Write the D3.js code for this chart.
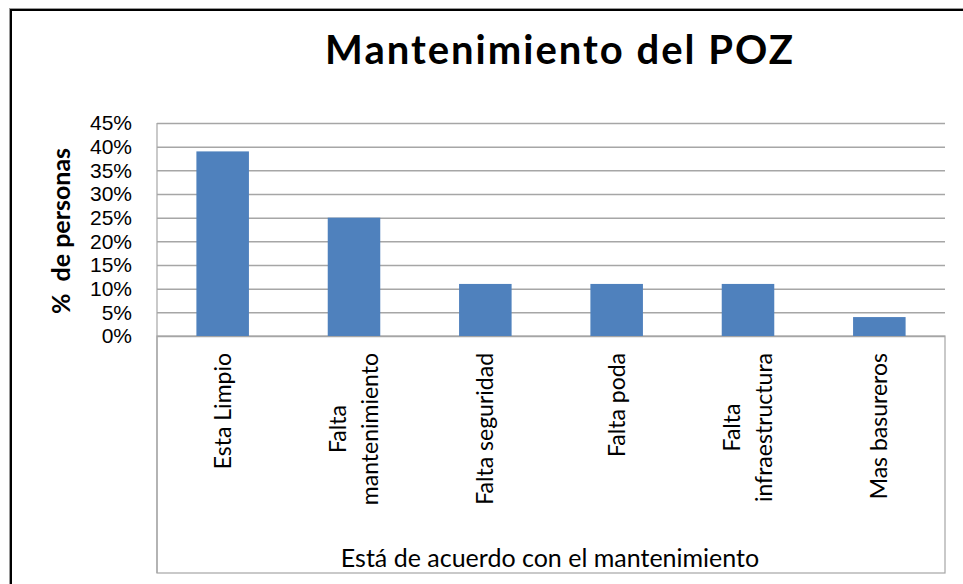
<!DOCTYPE html>
<html>
<head>
<meta charset="utf-8">
<script src="https://cdn.jsdelivr.net/npm/d3@7"></script>
<style>
  body { margin: 0; background: #fff; }
</style>
</head>
<body>
<div id="chart"></div>
<script>
// data
const categories = [
  ["Esta Limpio"],
  ["Falta", "mantenimiento"],
  ["Falta seguridad"],
  ["Falta poda"],
  ["Falta", "infraestructura"],
  ["Mas basureros"]
];
const values = [0.39, 0.25, 0.11, 0.11, 0.11, 0.04];
const yTicks = [0, 0.05, 0.10, 0.15, 0.20, 0.25, 0.30, 0.35, 0.40, 0.45];

const W = 963, H = 584;
let margin = { top: 123, right: 18, bottom: 248, left: 157 },
  width = W - margin.left - margin.right,
  height = H - margin.top - margin.bottom;

let svg = d3.select("#chart").append("svg")
  .attr("width", W)
  .attr("height", H);

// outer chart border (runs off the right and bottom of the picture)
svg.append("rect")
  .attr("x", 9.5).attr("y", 8.5)
  .attr("width", W + 20).attr("height", H + 20)
  .attr("fill", "none").attr("stroke", "#9a9a9a").attr("stroke-width", 1);
svg.append("rect")
  .attr("x", 11).attr("y", 10)
  .attr("width", W + 20).attr("height", H + 20)
  .attr("fill", "none").attr("stroke", "#000").attr("stroke-width", 2);

let g = svg.append("g")
  .attr("transform", "translate(" + margin.left + "," + margin.top + ")");

let x = d3.scaleBand()
  .domain(categories.map(c => c.join(" ")))
  .range([0, width])
  .paddingInner(0.6)
  .paddingOuter(0.3);

let y = d3.scaleLinear()
  .domain([0, 0.45])
  .range([height, 0]);

// gridlines
g.append("g")
  .attr("class", "grid")
  .call(d3.axisLeft(y).tickValues(yTicks).tickSize(-width).tickFormat(""))
  .call(s => s.select(".domain").remove())
  .selectAll("line")
  .attr("stroke", "#a6a6a6")
  .attr("stroke-width", 1.5);

// box under the axis for the category labels
g.append("rect")
  .attr("x", 0).attr("y", height)
  .attr("width", width).attr("height", 237)
  .attr("fill", "none").attr("stroke", "#a6a6a6").attr("stroke-width", 1.2);

// bars
g.selectAll(".bar")
  .data(values)
  .enter()
  .append("rect")
  .attr("class", "bar")
  .attr("fill", "#4f81bd")
  .attr("x", (d, i) => x(categories[i].join(" ")))
  .attr("width", x.bandwidth())
  .attr("y", d => y(d))
  .attr("height", d => height - y(d));

// y axis
let yaxis = g.append("g")
  .call(d3.axisLeft(y).tickValues(yTicks).tickSize(0).tickPadding(25)
    .tickFormat(d3.format(".0%")));
yaxis.select(".domain").remove();
yaxis.selectAll("text")
  .attr("font-family", "'Liberation Sans', Arial, sans-serif")
  .attr("font-size", "21px")
  .attr("fill", "#000");
g.append("line")
  .attr("x1", 0).attr("x2", 0).attr("y1", 0).attr("y2", height + 237)
  .attr("stroke", "#a6a6a6").attr("stroke-width", 1.2);

// category labels, rotated, multiline
let lineH = 32;
categories.forEach((lines, i) => {
  let cx = x(lines.join(" ")) + x.bandwidth() / 2;
  let t = g.append("text")
    .attr("font-family", "Lato, sans-serif")
    .attr("font-size", "23px")
    .attr("fill", "#000")
    .attr("text-anchor", "middle");
  lines.forEach((ln, j) => {
    t.append("tspan")
      .attr("x", 0)
      .attr("y", (j - (lines.length - 1) / 2) * lineH + 8)
      .text(ln);
  });
  let maxW = 0;
  t.selectAll("tspan").each(function () {
    maxW = Math.max(maxW, this.getComputedTextLength());
  });
  t.attr("transform", "translate(" + cx + "," + (height + 17 + maxW / 2) + ") rotate(-90)");
});

// x axis title
g.append("text")
  .attr("x", width / 2 - 1)
  .attr("y", height + 231)
  .attr("text-anchor", "middle")
  .attr("font-family", "Lato, sans-serif")
  .attr("font-size", "25px")
  .attr("fill", "#000")
  .text("Está de acuerdo con el mantenimiento");

// y axis title
svg.append("text")
  .attr("transform", "translate(70," + 231 + ") rotate(-90)")
  .attr("text-anchor", "middle")
  .attr("font-family", "Lato, sans-serif")
  .attr("font-weight", "bold")
  .attr("font-size", "25px")
  .attr("fill", "#000")
  .attr("xml:space", "preserve")
  .style("white-space", "pre")
  .text("%  de personas");

// chart title
svg.append("text")
  .attr("x", 560)
  .attr("y", 64)
  .attr("text-anchor", "middle")
  .attr("font-family", "Lato, sans-serif")
  .attr("font-weight", "bold")
  .attr("font-size", "40px")
  .attr("letter-spacing", "2px")
  .attr("fill", "#000")
  .text("Mantenimiento del POZ");
</script>
</body>
</html>
